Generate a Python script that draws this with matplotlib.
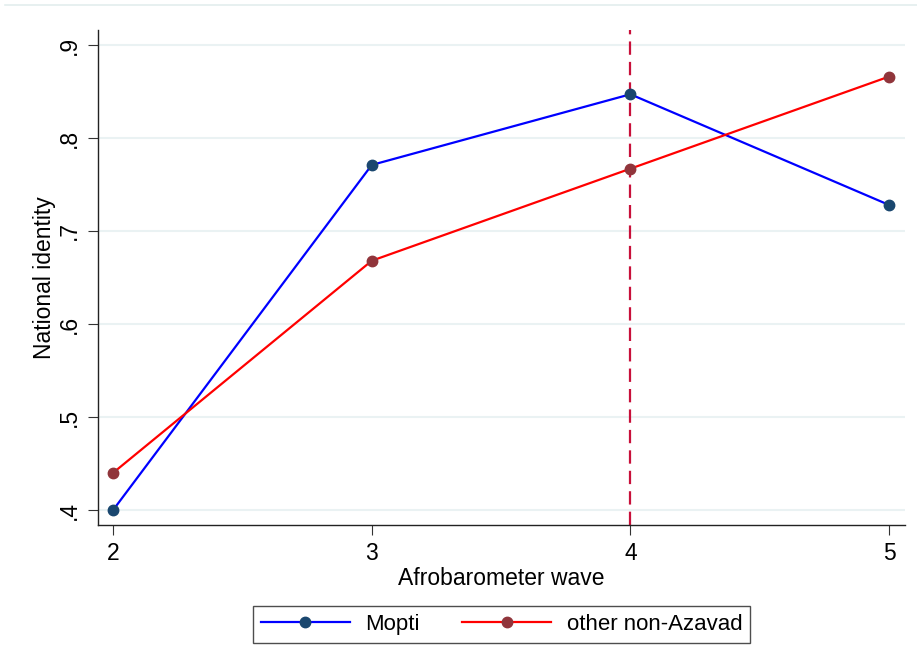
import matplotlib.pyplot as plt
from matplotlib.lines import Line2D

plt.rcParams['font.family'] = ['Liberation Sans', 'DejaVu Sans']

#data
waves = [2, 3, 4, 5]
mopti = [0.400, 0.771, 0.847, 0.728]
other_non_azavad = [0.440, 0.668, 0.767, 0.866]
y_ticks = [0.4, 0.5, 0.6, 0.7, 0.8, 0.9]
y_tick_labels = ['.4', '.5', '.6', '.7', '.8', '.9']
event_wave = 4

fig = plt.figure(figsize=(9.17, 6.71), dpi=100)
ax = fig.add_axes([0.107, 0.2176, 0.880, 0.7377])

#faint rule of the page above the figure
fig.add_artist(Line2D([0.005, 1.0], [0.993, 0.993], color='#e3eeee', lw=1.2))

ax.plot(waves, mopti, color='#0000ff', lw=1.6, marker='o', ms=7.5,
        mfc='#1a476f', mec='#1a476f', label='Mopti', zorder=3)
ax.plot(waves, other_non_azavad, color='#ff0000', lw=1.6, marker='o', ms=7.5,
        mfc='#90353b', mec='#90353b', label='other non-Azavad', zorder=3)
ax.axvline(event_wave, color='#c8103a', lw=1.6, ls=(0, (6, 3.2)), zorder=2)

ax.set_xlim(1.942, 5.062)
ax.set_ylim(0.3839, 0.9161)
ax.set_xticks(waves)
ax.set_yticks(y_ticks)
ax.set_yticklabels(y_tick_labels, rotation=90, va='center')
ax.tick_params(labelsize=16.5, length=7.5, width=0.8, color='#333333', pad=5)
ax.yaxis.grid(True, color='#eaf2f3', lw=1.5)
ax.set_axisbelow(True)
for s in ['top', 'right']:
    ax.spines[s].set_visible(False)
for s in ['left', 'bottom']:
    ax.spines[s].set_linewidth(1.0)
    ax.spines[s].set_color('#222222')

ax.set_xlabel('Afrobarometer wave', fontsize=16.5, labelpad=1)
ax.set_ylabel('National identity', fontsize=16.5, labelpad=1)

leg = fig.legend(loc='center', bbox_to_anchor=(0.547, 0.0693), ncol=2,
                 fontsize=16, frameon=True, fancybox=False, edgecolor='#222222',
                 handlelength=4.0, handletextpad=0.7, columnspacing=1.9,
                 borderpad=0.35, borderaxespad=0)
leg.get_frame().set_linewidth(1.0)

plt.savefig('out.png', dpi=100)
